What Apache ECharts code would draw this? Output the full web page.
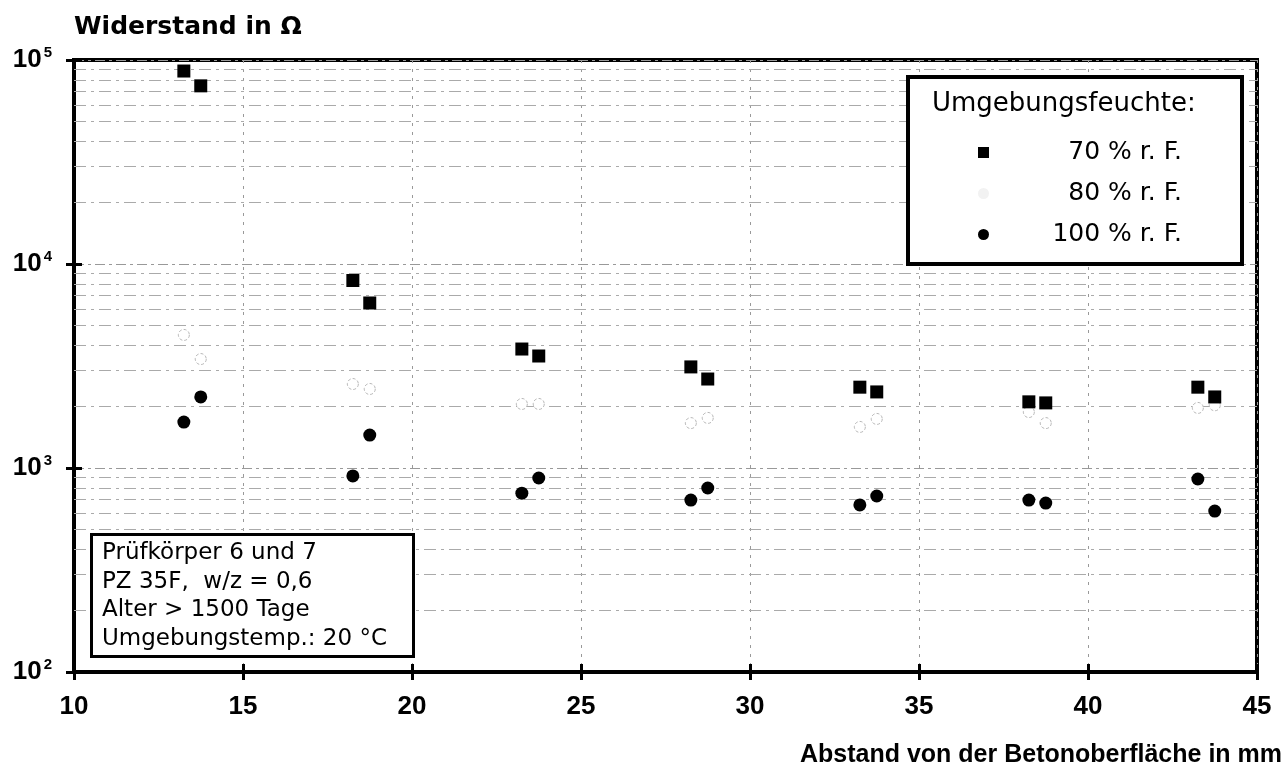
<!DOCTYPE html>
<html>
<head>
<meta charset="utf-8">
<script src="https://cdn.jsdelivr.net/npm/echarts@6/dist/echarts.min.js"></script>
<style>
html,body{margin:0;padding:0;background:#fff;}
#c{width:1286px;height:779px;}
</style>
</head>
<body>
<div id="c"></div>
<script>
// ---- data ----
var depth70  = [13.25, 13.75, 18.25, 18.75, 23.25, 23.75, 28.25, 28.75, 33.25, 33.75, 38.25, 38.75, 43.25, 43.75];
var res70    = [88300, 74700, 8300, 6440, 3830, 3540, 3130, 2730, 2490, 2360, 2110, 2085, 2490, 2230];
var depth80  = [13.25, 13.75, 18.25, 18.75, 23.25, 23.75, 28.25, 28.75, 33.25, 33.75, 38.25, 38.75, 43.25, 43.75];
var res80    = [4490, 3420, 2580, 2440, 2060, 2060, 1660, 1760, 1590, 1740, 1880, 1660, 1970, 2030];
var depth100 = [13.25, 13.75, 18.25, 18.75, 23.25, 23.75, 28.25, 28.75, 33.25, 33.75, 38.25, 38.75, 43.25, 43.75];
var res100   = [1680, 2230, 914, 1450, 753, 893, 696, 798, 659, 729, 696, 673, 883, 615];
var seriesNames = ['70 % r. F.', '80 % r. F.', '100 % r. F.'];
var minorGridValues = [200,300,400,500,600,700,800,900,2000,3000,4000,5000,6000,7000,8000,9000,20000,30000,40000,50000,60000,70000,80000,90000];
var infoLines = ['Prüfkörper 6 und 7', 'PZ 35F,  w/z = 0,6', 'Alter > 1500 Tage', 'Umgebungstemp.: 20 °C'];
var legendTitle = 'Umgebungsfeuchte:';
var yTitle = 'Widerstand in Ω';
var xTitle = 'Abstand von der Betonoberfläche in mm';

function pairs(xs, ys){ return xs.map(function(x,i){ return [x, ys[i]]; }); }

var LIB = '"Liberation Sans", Arial, sans-serif';
var DJV = '"DejaVu Sans", sans-serif';
var chart = echarts.init(document.getElementById('c'));

var option = {
  animation: false,
  backgroundColor: '#fff',
  textStyle: {fontFamily: LIB},
  grid: {left: 74, top: 60, right: 29, bottom: 107, show: true, borderColor: '#000', borderWidth: 4, backgroundColor: 'transparent'},
  xAxis: [{
    type: 'value', min: 10, max: 45, interval: 5,
    name: xTitle, nameLocation: 'end', nameGap: 25,
    nameTextStyle: {fontFamily: LIB, fontSize: 25, fontWeight: 'bold', color: '#000', align: 'right', verticalAlign: 'top', padding: [71, 0, 0, 0]},
    axisLine: {show: true, onZero: false, lineStyle: {color: '#000', width: 4}},
    axisTick: {show: true, length: 8, lineStyle: {color: '#000', width: 3}},
    axisLabel: {margin: 22, fontFamily: LIB, fontSize: 26, fontWeight: 'bold', color: '#000'},
    splitLine: {show: true, lineStyle: {color: '#999', width: 1, type: [3, 6]}}
  }, {
    type: 'value', min: 10, max: 45, interval: 5, position: 'bottom',
    axisLine: {show: false}, axisLabel: {show: false}, splitLine: {show: false},
    axisTick: {show: true, inside: true, length: 8, lineStyle: {color: '#000', width: 3}}
  }],
  yAxis: [{
    type: 'log', logBase: 10, min: 100, max: 100000,
    name: yTitle, nameLocation: 'end', nameGap: 20,
    nameTextStyle: {fontFamily: DJV, fontSize: 25, fontWeight: 'bold', color: '#000', align: 'left', verticalAlign: 'bottom'},
    axisLine: {show: true, onZero: false, lineStyle: {color: '#000', width: 4}},
    axisTick: {show: true, length: 8, lineStyle: {color: '#000', width: 3}},
    axisLabel: {
      margin: 22,
      formatter: function(v){ return '{b|10}{s|' + Math.round(Math.log10(v)) + '}'; },
      rich: {
        b: {fontFamily: LIB, fontSize: 26, fontWeight: 'bold', color: '#000'},
        s: {fontFamily: LIB, fontSize: 15, fontWeight: 'bold', color: '#000', verticalAlign: 'bottom', padding: [0, 0, 14, 2]}
      }
    },
    splitLine: {show: true, lineStyle: {color: '#999', width: 1, type: [10, 4, 3, 4]}}
  }, {
    type: 'log', logBase: 10, min: 100, max: 100000, position: 'left',
    axisLine: {show: false}, axisLabel: {show: false}, splitLine: {show: false},
    axisTick: {show: true, inside: true, length: 8, lineStyle: {color: '#000', width: 3}}
  }],
  legend: {
    z: 60,
    orient: 'vertical', left: 973, top: 135, itemGap: 16,
    itemWidth: 11, itemHeight: 11,
    data: [
      {name: seriesNames[0], icon: 'rect', itemStyle: {color: '#000', opacity: 1}},
      {name: seriesNames[1], icon: 'circle', itemStyle: {color: '#f2f2f2', borderWidth: 0, opacity: 1}},
      {name: seriesNames[2], icon: 'circle', itemStyle: {color: '#000', opacity: 1}}
    ],
    formatter: function(n){ return '{t|' + n + '}'; },
    textStyle: {rich: {t: {fontFamily: DJV, fontSize: 25, color: '#000', width: 188, align: 'right'}}}
  },
  graphic: [
    {type: 'rect', left: 906, top: 75, z: 50,
     shape: {width: 334, height: 187}, style: {fill: '#fff', stroke: '#000', lineWidth: 4}},
    {type: 'text', left: 932, top: 91, z: 51,
     style: {text: legendTitle, font: '26px ' + DJV, fill: '#000'}},
    {type: 'rect', left: 90, top: 533, z: 50,
     shape: {width: 322, height: 122}, style: {fill: '#fff', stroke: '#000', lineWidth: 3}},
    {type: 'text', left: 102, top: 539, z: 51,
     style: {text: infoLines.join('\n'), font: '23px ' + DJV, lineHeight: 28.5, fill: '#000'}}
  ],
  series: [
    {name: seriesNames[0], type: 'scatter', symbol: 'rect', symbolSize: 13, z: 10,
     itemStyle: {color: '#000', opacity: 1}, data: pairs(depth70, res70),
     markLine: {silent: true, symbol: 'none', label: {show: false},
       lineStyle: {color: '#aaa', width: 1, type: [12, 5, 3, 5]},
       data: minorGridValues.map(function(v){ return {yAxis: v}; })}},
    {name: seriesNames[1], type: 'scatter', symbol: 'circle', symbolSize: 11, z: 9,
     itemStyle: {color: '#fff', borderColor: '#b8b8b8', borderWidth: 1, borderType: [3, 2], opacity: 1},
     data: pairs(depth80, res80)},
    {name: seriesNames[2], type: 'scatter', symbol: 'circle', symbolSize: 13, z: 10,
     itemStyle: {color: '#000', opacity: 1}, data: pairs(depth100, res100)}
  ]
};
chart.setOption(option);
</script>
</body>
</html>
